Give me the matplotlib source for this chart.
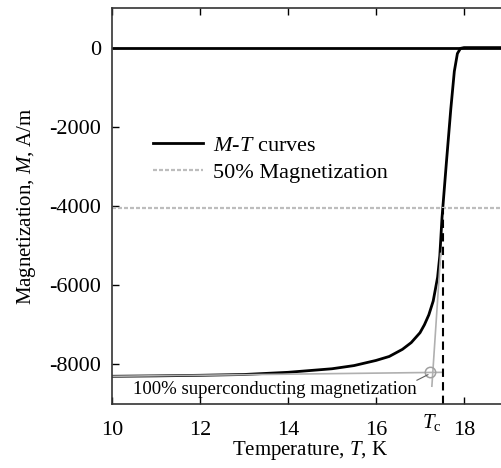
import matplotlib
matplotlib.use("Agg")
import matplotlib.pyplot as plt

plt.rcParams["font.family"] = "Liberation Serif"
plt.rcParams["mathtext.fontset"] = "custom"
plt.rcParams["mathtext.rm"] = "Liberation Serif"
plt.rcParams["mathtext.it"] = "Liberation Serif:italic"
plt.rcParams["axes.unicode_minus"] = False

# M-T curve (zero-field cooled branch)
temp = [10.0, 11.0, 12.0, 13.0, 14.0, 15.0, 15.5, 16.0, 16.3, 16.6, 16.8, 17.0,
        17.1, 17.2, 17.3, 17.4, 17.45, 17.5, 17.6, 17.7, 17.78, 17.85, 17.92, 18.0,
        18.5, 19.0]
mag = [-8300, -8290, -8275, -8255, -8200, -8110, -8030, -7900, -7800, -7620, -7450, -7200,
       -7000, -6750, -6400, -5800, -5260, -4300, -2900, -1550, -600, -150, -20, 0,
       0, 0]
# field-cooled branch stays at zero
temp_fc = [10.0, 19.0]
mag_fc = [0, 0]

half_mag = -4050
full_line_t = [10.0, 17.52]
full_line_m = [-8300, -8200]
tangent_t = [17.27, 17.47]
tangent_m = [-8550, -5200]
tc = 17.515
cross_t, cross_m = 17.22, -8190
leader_t = [16.93, 17.18]
leader_m = [-8400, -8260]

xticks = [10, 12, 14, 16, 18]
yticks = [0, -2000, -4000, -6000, -8000]

fig = plt.figure(figsize=(5.01, 4.68), dpi=100)
ax = fig.add_axes([112 / 501, 64 / 468, 396 / 501, 396 / 468])

ax.plot(temp_fc, mag_fc, color="black", lw=2, solid_capstyle="butt")
ax.plot(temp, mag, color="black", lw=2, label="$M$-$T$ curves")
ax.axhline(half_mag, color="#bdbdbd", lw=1.6, ls=(0, (1.8, 0.9)), label="50% Magnetization")
ax.plot(full_line_t, full_line_m, color="#b0b0b0", lw=1.2)
ax.plot(tangent_t, tangent_m, color="#b0b0b0", lw=1.2)
ax.plot([tc, tc], [-9000, half_mag], color="black", lw=1.5, ls=(0, (4, 2.5)))
ax.plot([cross_t], [cross_m], marker="o", ms=7.5, mfc="none", mec="#a0a0a0", mew=1.1)
ax.plot(leader_t, leader_m, color="#606060", lw=0.8)

ax.text(16.92, -8640, "100% superconducting magnetization", ha="right", va="center",
        fontsize=13.5)
ax.text(17.27, -9200, "$T_\\mathrm{c}$", ha="center", va="top", fontsize=15)

ax.set_xlim(10, 19)
ax.set_ylim(-9000, 1000)
ax.set_xticks(xticks)
ax.set_yticks(yticks)
ax.tick_params(direction="in", top=True, right=True, length=5, width=1, labelsize=16)
ax.tick_params(axis="x", pad=12.5)
ax.tick_params(axis="y", pad=8)
for s in ax.spines.values():
    s.set_linewidth(1.2)
    s.set_color("#333333")

ax.set_xlabel("Temperature, $T$, K", fontsize=15, labelpad=-1)
ax.set_ylabel("Magnetization, $M$, A/m", fontsize=15, labelpad=8)

ax.legend(loc="upper left", bbox_to_anchor=(0.1035, 0.679), frameon=False,
          borderaxespad=0, borderpad=0, fontsize=16, handlelength=2.25,
          handletextpad=0.45, labelspacing=0.3)

fig.savefig("out.png", dpi=100)
